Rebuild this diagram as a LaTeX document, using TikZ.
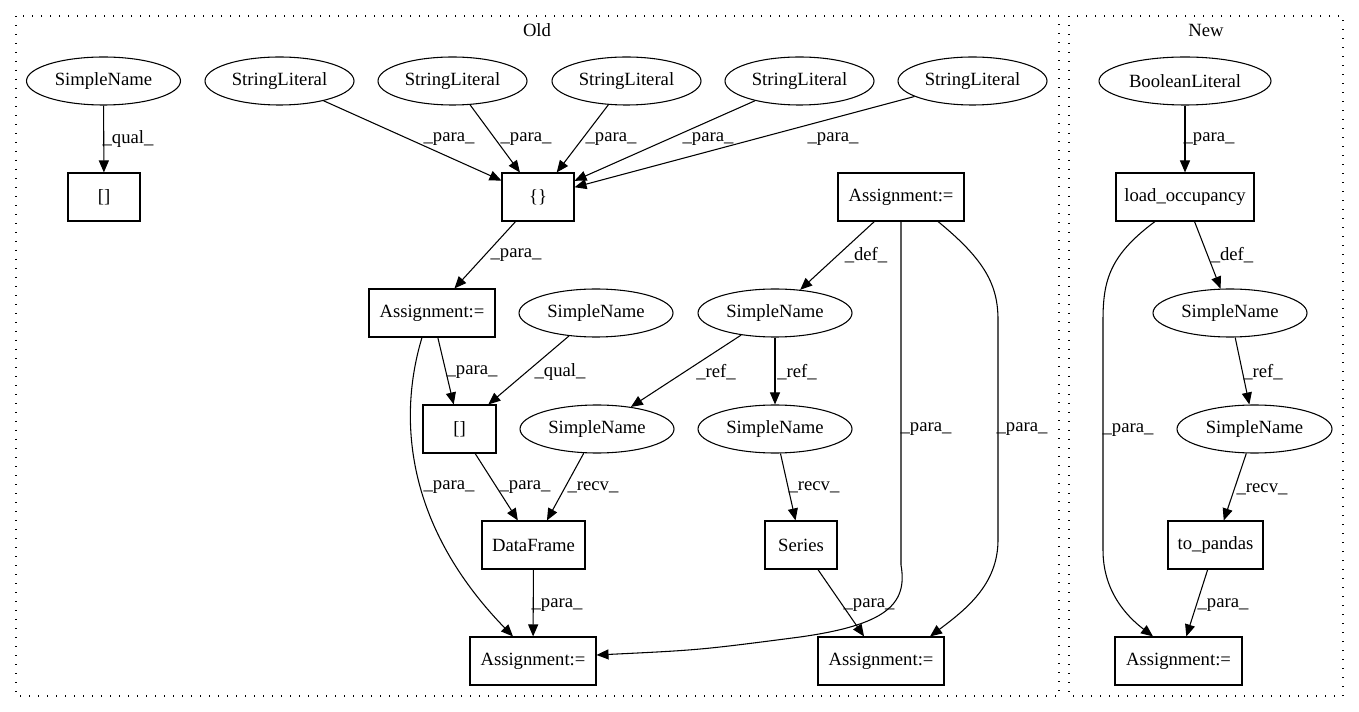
\documentclass[tikz,border=0pt]{standalone}
\usepackage{fontspec}
\setmainfont{Liberation Serif}
\usepackage{tikz}
\usetikzlibrary{shapes.geometric}
\usetikzlibrary{arrows.meta}
\tikzset{>={Triangle[width=7.5pt,length=9pt]}}

\begin{document}
\begin{tikzpicture}[x=0.75pt, y=-0.75pt, font=\fontsize{14}{16}\selectfont, line width=0.8pt]

    \tikzstyle{enode} = [draw, ellipse, inner sep = 0pt, minimum height = 36pt]
    \tikzstyle{bnode} = [draw, rectangle, inner sep = 0pt, minimum height = 36pt]
    \tikzstyle{lnode} = [inner sep = 0pt]
    \tikzstyle{cluster} = [dash pattern = on 1pt off 5.75pt]

    \useasboundingbox (0,0) rectangle (1359,712);
    \draw[cluster] (16,16) rectangle (1059,696);
    \draw[cluster] (1069,16) rectangle (1343,696);
    \node (told) at (537,30) {Old};
    \node (tnew) at (1206,30) {New};

    % old
    \node[enode, minimum width = 115.5pt] (sn1) at (103.5,81) {SimpleName};
    \node[enode, minimum width = 111.75pt] (sl1) at (279.5,81) {StringLiteral};
    \node[enode, minimum width = 111.75pt] (sl2) at (452.5,81) {StringLiteral};
    \node[enode, minimum width = 111.75pt] (sl3) at (626.5,81) {StringLiteral};
    \node[enode, minimum width = 111.75pt] (sl4) at (799.5,81) {StringLiteral};
    \node[enode, minimum width = 111.75pt] (sl5) at (972.5,81) {StringLiteral};

    \node[bnode, minimum width = 54pt] (ix1) at (104,197) {[]};
    \node[bnode, minimum width = 54pt] (br) at (538,197) {\{\}};
    \node[bnode, minimum width = 94.5pt] (as1) at (901,197) {Assignment:=};

    \node[bnode, minimum width = 94.5pt] (as2) at (432,313) {Assignment:=};
    \node[enode, minimum width = 115.5pt] (sn2) at (596,313) {SimpleName};
    \node[enode, minimum width = 115.5pt] (sn3) at (775,313) {SimpleName};

    \node[bnode, minimum width = 54.75pt] (ix2) at (459.5,429) {[]};
    \node[enode, minimum width = 115.5pt] (sn4) at (597,429) {SimpleName};
    \node[enode, minimum width = 115.5pt] (sn5) at (775,429) {SimpleName};

    \node[bnode, minimum width = 77.25pt] (df) at (533.5,545) {DataFrame};
    \node[bnode, minimum width = 54pt] (se) at (801,545) {Series};

    \node[bnode, minimum width = 94.5pt] (as3) at (533,661) {Assignment:=};
    \node[bnode, minimum width = 94.5pt] (as4) at (881,661) {Assignment:=};

    % new
    \node[enode, minimum width = 129pt] (bl) at (1185,81) {BooleanLiteral};
    \node[bnode, minimum width = 103.5pt] (lo) at (1185,197) {load\_occupancy};
    \node[enode, minimum width = 115.5pt] (sn6) at (1230,313) {SimpleName};
    \node[enode, minimum width = 116.25pt] (sn7) at (1254.5,429) {SimpleName};
    \node[bnode, minimum width = 71.25pt] (tp) at (1215.5,545) {to\_pandas};
    \node[bnode, minimum width = 95.25pt] (as5) at (1178.5,661) {Assignment:=};

    % edges old
    \draw[->] (sn1) -- (ix1);
    \draw[->] (sl1) -- (br);
    \draw[->] (sl2) -- (br);
    \draw[->] (sl3) -- (br);
    \draw[->] (sl4) -- (br);
    \draw[->] (sl5) -- (br);

    \draw[->] (br) -- (as2);
    \draw[->] (as1) -- (sn3);
    \draw[->] (as2) -- (ix2);
    \draw[->] (sn2) -- (ix2);
    \draw[->] (sn3) -- (sn4);
    \draw[->] (sn3) -- (sn5);

    \draw[->] (ix2) -- (df);
    \draw[->] (sn4) -- (df);
    \draw[->] (sn5) -- (se);
    \draw[->] (df) -- (as3);
    \draw[->] (se) -- (as4);

    \draw[->] ([xshift=-7.5pt]as2.south) .. controls (400,410) and (400,520) .. ([xshift=-15pt]as3.north);
    \draw[->] (as1.south) -- (901,565) .. controls (908,605) and (885,625) .. (800,637)
      .. controls (700,650) .. ([yshift=4.5pt]as3.east);
    \draw[->] ([xshift=27.75pt]as1.south) .. controls (985,260) and (998,285) .. (998,320) -- (998,540)
      .. controls (998,585) and (965,610) .. ([xshift=36.75pt]as4.north);

    % edges new
    \draw[->] (bl) -- (lo);
    \draw[->] (lo) -- (sn6);
    \draw[->] (sn6) -- (sn7);
    \draw[->] (sn7) -- (tp);
    \draw[->] (tp) -- (as5);
    \draw[->] ([xshift=-22.5pt]lo.south) .. controls (1110,255) and (1103,280) .. (1103,320) -- (1103,550)
      .. controls (1103,590) and (1125,615) .. ([xshift=-19.1pt]as5.north);

    % edge labels
    \node[lnode] (q1) at (128,139) {\_qual\_};
    \node[lnode] (p1) at (449,139) {\_para\_};
    \node[lnode] (p2) at (526,139) {\_para\_};
    \node[lnode] (p3) at (611,139) {\_para\_};
    \node[lnode] (p4) at (708,139) {\_para\_};
    \node[lnode] (p5) at (833,139) {\_para\_};
    \node[lnode] (p6) at (516,255) {\_para\_};
    \node[lnode] (d1) at (866,255) {\_def\_};
    \node[lnode] (p7) at (472,372) {\_para\_};
    \node[lnode] (q2) at (560,372) {\_qual\_};
    \node[lnode] (r1) at (716,372) {\_ref\_};
    \node[lnode] (r2) at (797,372) {\_ref\_};
    \node[lnode] (p8) at (926,429) {\_para\_};
    \node[lnode] (p9) at (1022,429) {\_para\_};
    \node[lnode] (p10) at (449,487) {\_para\_};
    \node[lnode] (p11) at (525,487) {\_para\_};
    \node[lnode] (v1) at (593,487) {\_recv\_};
    \node[lnode] (v2) at (814,487) {\_recv\_};
    \node[lnode] (p12) at (557,605) {\_para\_};
    \node[lnode] (p13) at (869,605) {\_para\_};

    \node[lnode] (p14) at (1209,139) {\_para\_};
    \node[lnode] (d2) at (1232,255) {\_def\_};
    \node[lnode] (r3) at (1263,372) {\_ref\_};
    \node[lnode] (p15) at (1128,430) {\_para\_};
    \node[lnode] (v3) at (1262,489) {\_recv\_};
    \node[lnode] (p16) at (1223,605) {\_para\_};

\end{tikzpicture}
\end{document}
